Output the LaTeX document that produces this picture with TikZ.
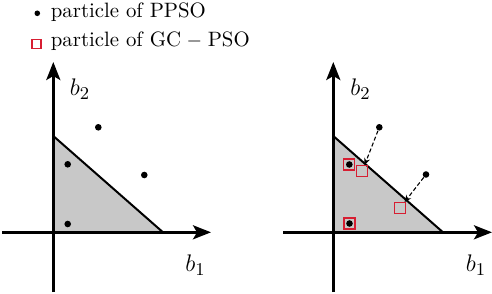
\documentclass[tikz,border=0pt]{standalone}
\usetikzlibrary{arrows.meta}
\definecolor{sqred}{RGB}{215,30,50}
\definecolor{regiongray}{RGB}{200,200,200}
\begin{document}
\begin{tikzpicture}[x=0.5pt,y=-0.5pt,
  axisline/.style={line width=1.3pt,-{Stealth[length=9pt,width=7pt,inset=2pt]}},
  region/.style={fill=regiongray,draw=none},
  edge/.style={line width=1pt},
  pdot/.style={circle,fill=black,inner sep=0pt,minimum size=3.3pt},
  gcsq/.style={rectangle,draw=sqred,line width=0.6pt,inner sep=0pt,minimum size=5.5pt},
  dasharrow/.style={dashed,dash pattern=on 2pt off 1.2pt,line width=0.55pt,-{Stealth[length=3.5pt,width=3pt]}},
  lbl/.style={inner sep=0pt,font=\fontsize{12.5}{14}\selectfont},
  legtxt/.style={inner sep=0pt,anchor=base west,font=\fontsize{10.4}{12}\selectfont}]
\useasboundingbox (0,0) rectangle (492,294);
% legend
\node[pdot,minimum size=2.8pt] (ld) at (37.3,13.3) {};
\node[legtxt] (lt1) at (50.5,17.3) {particle of PPSO};
\node[gcsq,minimum size=4.5pt] (ls) at (36.5,44) {};
\node[legtxt] (lt2) at (50.5,46.6) {particle of GC$\;-\;$PSO};
% ---------- left panel ----------
\coordinate (LO) at (53.3,232.3);
\coordinate (LT) at (53.3,136);
\coordinate (LR) at (163,232.3);
\fill[region] (LO) -- (LT) -- (LR) -- cycle;
\draw[edge] (LT) -- (LR);
\coordinate (Lyb) at (53.3,292);
\coordinate (Lyt) at (53.3,62);
\coordinate (Lxl) at (2,232.3);
\coordinate (Lxr) at (211,232.3);
\draw[axisline] (Lyb) -- (Lyt);
\draw[axisline] (Lxl) -- (Lxr);
\node[lbl] (Lb2) at (80,89) {$b_2$};
\node[lbl] (Lb1) at (195.5,265) {$b_1$};
\node[pdot] (Ld1) at (98.3,127.3) {};
\node[pdot] (Ld2) at (67.7,164.3) {};
\node[pdot] (Ld3) at (144.3,175) {};
\node[pdot] (Ld4) at (67.7,224) {};
% ---------- right panel ----------
\coordinate (RO) at (333.3,232.3);
\coordinate (RT) at (333.3,136);
\coordinate (RR) at (443,232.3);
\fill[region] (RO) -- (RT) -- (RR) -- cycle;
\draw[edge] (RT) -- (RR);
\coordinate (Ryb) at (333.3,292);
\coordinate (Ryt) at (333.3,62);
\coordinate (Rxl) at (283,232.3);
\coordinate (Rxr) at (492,232.3);
\draw[axisline] (Ryb) -- (Ryt);
\draw[axisline] (Rxl) -- (Rxr);
\node[lbl] (Rb2) at (360.5,89) {$b_2$};
\node[lbl] (Rb1) at (476,265) {$b_1$};
\node[gcsq] (s1) at (349.3,164.5) {};
\node[pdot] (Rd1) at (349.3,164.5) {};
\node[gcsq] (s2) at (362.2,171.2) {};
\node[gcsq] (s3) at (399.8,208.2) {};
\node[gcsq] (s4) at (349.5,223.5) {};
\node[pdot] (Rd4) at (349.5,223.5) {};
\node[pdot] (Rd2) at (379.3,127.3) {};
\node[pdot] (Rd3) at (426,174.5) {};
\draw[dasharrow] (Rd2) -- (s2);
\draw[dasharrow] (Rd3) -- (s3);
\end{tikzpicture}
\end{document}
